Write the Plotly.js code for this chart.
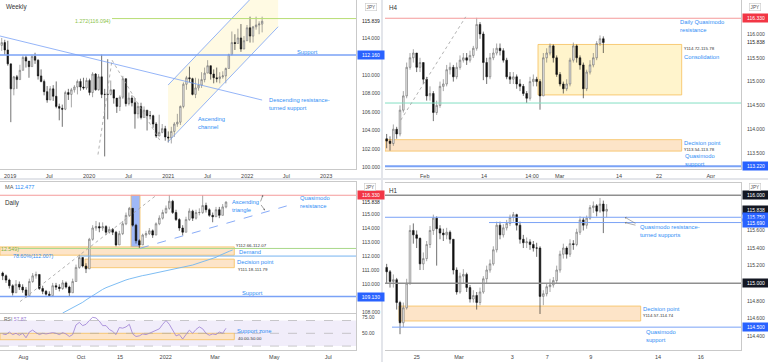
<!DOCTYPE html>
<html><head><meta charset="utf-8">
<script src="https://cdn.plot.ly/plotly-3.0.1.min.js"></script>
<style>html,body{margin:0;padding:0;background:#fff}#chart{width:768px;height:362px}</style>
</head><body><div id="chart"></div>
<script>
// ---------------- DATA ----------------
// Weekly panel (two-week bars), bar end dates start 2018-11-23
const wkStart = '2018-11-23';
const wkOpen0 = 113.2;
const wkClose = [113.5,112.7,111.2,108.5,109.8,109.5,110.5,111.9,111.5,110.9,112.0,111.6,109.9,109.3,108.2,107.3,108.5,107.7,106.6,106.4,106.3,108.1,107.9,108.4,108.7,109.3,108.7,108.6,109.4,108.1,110.1,108.4,109.8,107.9,107.9,107.9,108.4,107.5,106.6,107.6,109.6,106.9,107.5,107.0,105.8,106.6,105.4,106.2,105.6,105.6,104.7,103.4,103.8,104.2,103.3,103.2,103.9,104.7,104.9,106.6,109.0,109.7,109.6,107.9,108.6,108.9,109.5,110.2,111.0,110.1,109.7,109.6,109.8,109.9,110.7,112.2,113.5,113.4,114.0,112.8,113.7,115.1,114.2,115.2,115.4,115.5,115.8];
const wkHigh = [114.0,113.8,113.7,110.9,109.9,110.0,111.1,112.1,112.1,111.5,112.2,112.4,111.7,110.6,109.5,108.8,108.8,108.9,109.3,106.9,106.8,108.3,108.5,108.6,108.9,109.5,109.6,109.7,109.7,109.6,110.3,110.2,110.1,112.2,108.5,111.7,109.4,108.1,107.5,107.8,109.9,108.0,108.1,107.8,107.5,107.0,107.0,106.6,105.8,106.1,105.7,104.9,105.7,104.7,104.5,103.9,104.4,104.9,105.8,106.7,109.2,109.9,110.9,109.7,109.7,109.6,110.3,110.8,111.6,111.0,110.6,110.8,110.3,110.4,110.8,112.3,114.7,114.4,115.0,115.5,114.2,115.4,116.3,115.3,116.3,115.8,116.3];
const wkLow = [112.6,112.2,111.0,104.9,107.8,108.5,109.7,110.6,110.8,109.7,110.9,111.2,109.5,109.2,107.8,107.0,107.3,107.2,106.4,105.1,104.4,106.2,107.3,106.5,108.1,107.9,108.3,108.4,108.4,107.8,107.6,108.3,108.3,107.5,101.2,105.2,107.8,106.9,105.9,106.1,107.4,106.6,106.7,106.6,104.2,105.3,105.2,105.8,104.0,105.2,104.3,103.2,103.7,103.7,102.9,102.7,102.6,103.3,104.4,104.6,106.4,108.4,109.2,107.8,107.5,108.3,108.6,109.2,110.2,109.5,109.1,109.2,109.1,109.6,109.1,110.8,112.1,112.7,113.4,112.5,112.9,113.9,113.5,113.5,114.9,114.4,114.6];
const wkTickDates = ['2019-01-01','2019-07-01','2020-01-01','2020-07-01','2021-01-01','2021-07-01','2022-01-01','2022-07-01','2023-01-01'];
const wkTickText = ['2019','Jul','2020','Jul','2021','Jul','2022','Jul','2023'];
const wkPriceTicks = [100,102,104,106,108,110,114,118];

// H4 panel
const h4Open0 = 113.8;
const h4Close = [113.75,113.7,114.0,113.9,114.4,114.7,115.3,115.5,115.6,115.3,115.4,115.05,114.7,114.75,114.35,114.5,114.9,114.95,115.25,115.3,115.1,115.3,115.45,115.5,115.45,115.55,115.7,116.2,116.0,115.4,115.1,115.5,115.6,115.7,115.65,115.45,115.1,115.05,115.1,114.95,114.9,114.75,114.65,115.0,115.05,115.0,114.7,115.5,115.6,115.75,115.5,115.15,114.95,114.85,114.95,115.45,115.75,115.5,115.35,114.85,115.2,115.35,115.5,115.8,115.9,115.82];
const h4High = [113.9,113.85,114.1,114.05,114.5,114.8,115.4,115.6,115.68,115.6,115.5,115.4,115.1,114.9,114.8,114.6,115.0,115.05,115.35,115.4,115.35,115.4,115.55,115.6,115.6,115.65,115.75,116.34,116.25,116.05,115.5,115.6,115.7,115.8,115.8,115.7,115.5,115.2,115.2,115.15,115.05,114.95,114.8,115.1,115.15,115.1,115.05,115.6,115.7,115.8,115.78,115.55,115.2,115.0,115.05,115.5,115.82,115.78,115.55,115.4,115.25,115.45,115.6,115.85,115.97,115.95];
const h4Low = [113.6,113.55,113.65,113.8,113.85,114.35,114.65,115.25,115.4,115.2,115.2,114.95,114.6,114.6,114.17,114.3,114.45,114.8,114.9,115.15,115.0,115.05,115.25,115.4,115.35,115.4,115.5,115.65,115.9,115.03,114.95,115.05,115.45,115.55,115.55,115.4,115.05,114.95,114.95,114.85,114.8,114.7,114.55,114.6,114.9,114.9,114.41,114.7,115.4,115.55,115.4,115.1,114.9,114.75,114.8,114.9,115.4,115.4,115.25,114.65,114.8,115.15,115.3,115.45,115.75,115.6];
const h4TickText = ['Feb','14','14:00','Mar','14','22','Apr'];
const h4PriceTicks = [113.5,114,114.5,115,115.5,116];

// Daily panel
const dOpen0 = 110.8;
const dClose = [110.6,110.3,109.9,109.4,110.0,109.8,109.6,109.2,110.2,110.6,110.7,109.7,109.5,109.3,109.2,109.9,109.8,109.7,110.1,109.8,109.4,110.2,111.2,111.9,111.3,111.1,113.2,114.0,114.1,114.0,114.1,113.7,113.9,113.7,112.8,113.6,114.3,114.9,115.4,114.2,113.1,112.8,113.5,113.6,113.8,113.5,114.3,114.7,115.1,115.4,115.9,115.1,114.6,114.0,113.7,114.6,115.2,114.7,115.1,115.1,115.6,115.3,114.9,114.8,115.3,114.9,115.5,115.84];
const dHigh = [110.9,110.7,110.4,110.0,110.3,110.2,110.0,109.8,110.4,110.8,110.9,110.7,109.9,109.6,109.5,110.1,110.1,110.0,110.3,110.2,109.9,110.4,111.4,112.1,111.9,111.5,113.3,114.2,114.5,114.4,114.4,114.2,114.1,114.0,113.8,113.8,114.5,115.1,115.5,115.3,114.3,113.2,113.6,113.8,114.0,113.9,114.4,114.9,115.3,115.6,116.35,116.0,115.3,114.7,114.2,114.8,115.4,115.3,115.3,115.4,116.34,115.8,115.4,115.1,115.5,115.5,115.7,115.9];
const dLow = [110.3,110.1,109.7,109.2,109.4,109.6,109.4,109.05,109.2,110.1,110.4,109.6,109.3,109.2,109.1,109.2,109.6,109.5,109.6,109.7,109.1,109.4,110.2,111.1,111.2,110.8,111.1,113.1,113.8,113.7,113.8,113.5,113.6,113.5,112.7,112.8,113.5,114.2,114.8,114.1,112.9,112.55,112.8,113.3,113.5,113.3,113.5,114.2,114.6,115.0,115.3,115.0,114.5,113.8,113.47,113.7,114.5,114.5,114.6,114.9,115.0,115.1,114.8,114.41,114.8,114.7,114.9,115.4];
const maStart = 18;
const maValues = [107.96,108.08,108.20,108.34,108.46,108.60,108.72,108.89,109.05,109.22,109.38,109.53,109.64,109.76,109.86,109.95,110.05,110.14,110.21,110.31,110.38,110.45,110.52,110.57,110.62,110.66,110.71,110.76,110.81,110.85,110.90,110.95,111.00,111.04,111.09,111.14,111.18,111.26,111.30,111.37,111.45,111.52,111.59,111.68,111.75,111.85,111.92,112.04,112.16,112.25,112.35,112.44];
const rsiValues = [49,48,52,48,50,47,50,43,52,55,51,48,50,49,50,51,50,48,51,49,45,48,63,67,62,64,70,75,74,69,62,62,56,53,48,59,58,60,64,49,45,46,49,48,50,52,54,57,64,70,64,54,46,48,41,48,55,50,56,60,57,50,47,49,48,52,50,57.87];
const dTickText = ['Aug','Oct','15','2022','Mar','May','Jul'];
const dPriceTicks = [108,110,111,112,113,114,115];
const rsiTicks = [50,75];

// H1 panel
const h1Open0 = 115.18;
const h1Close = [115.13,115.02,115.04,114.78,114.55,114.72,115.0,115.6,115.55,115.51,115.22,115.28,115.44,115.6,115.74,115.62,115.57,115.55,115.58,115.5,115.15,114.9,115.08,115.1,114.95,114.82,114.86,114.78,114.9,115.05,115.15,115.22,115.38,115.66,115.55,115.63,115.68,115.75,115.78,115.66,115.5,115.46,115.47,115.44,115.4,115.4,114.85,114.88,114.96,114.98,115.03,115.15,115.33,115.4,115.33,115.45,115.44,115.58,115.72,115.66,115.74,115.86,115.88,115.82,115.9,115.82,115.84];
const h1High = [115.22,115.15,115.1,115.06,114.8,114.78,115.05,115.66,115.68,115.6,115.52,115.35,115.48,115.65,115.78,115.76,115.66,115.62,115.63,115.6,115.5,115.18,115.12,115.16,115.12,114.98,114.92,114.9,114.95,115.08,115.2,115.27,115.42,115.7,115.7,115.67,115.72,115.78,115.81,115.79,115.7,115.55,115.52,115.5,115.48,115.46,115.42,114.92,115.0,115.05,115.07,115.2,115.37,115.45,115.42,115.5,115.49,115.62,115.76,115.75,115.77,115.89,115.93,115.9,115.97,115.94,115.9];
const h1Low = [115.0,114.95,114.95,114.7,114.42,114.5,114.7,114.98,115.45,115.4,115.15,115.15,115.25,115.4,115.55,115.2,115.5,115.48,115.5,115.45,115.1,114.87,114.88,115.0,114.9,114.78,114.78,114.7,114.75,114.88,115.0,115.12,115.2,115.35,115.5,115.52,115.6,115.65,115.7,115.6,115.45,115.4,115.4,115.38,115.36,115.3,114.65,114.75,114.85,114.9,114.95,115.0,115.12,115.28,115.28,115.3,115.38,115.42,115.55,115.6,115.62,115.72,115.8,115.76,115.8,115.57,115.75];
const h1TickText = ['25','Mar','3','7','9','14','16'];
const h1PriceTicks = [114.4,114.6,114.8,115.2,115.4,115.6];

// key levels
const wkFib = 116.094, wkSupport = 112.160, wkLast = 115.839;
const h4Res = 116.330, h4Mid = 114.55, h4Sup = 113.220, h4Last = 115.838;
const h4Consol = [114.72, 115.78], h4Decision = [113.54, 113.78];
const dRes = 116.330, dSup = 109.130, dLast = 115.838, dFib = 112.549, dFib786 = 112.007;
const dDemand = [112.07, 112.66], dDecision = [111.18, 111.79], dBlueZone = [112.44, 116.33];
const rsiZone = [40, 50];
const h1Top = 116.0, h1Mid = 115.0, h1Q1 = 115.75, h1Q2 = 115.69, h1Sup = 114.5, h1Last = 115.838;
const h1Decision = [114.57, 114.74];

// ---------------- HELPERS ----------------
const W = 768, H = 362;
const FONT = 'Liberation Sans, Arial, sans-serif';
const BLUE_TXT = '#2f8df5', BLUE_LINE = '#7aa2f6', TAG_BLUE = '#2962ff';
const RED_LINE = '#f49a9a', TAG_RED = '#f23645';
const ZONE_FILL = '#fde4c8', ZONE_LINE = '#f6bf5a';
const PXx = x => x / W, PYy = y => 1 - y / H;
const barL = px => (3 * px - 8) / 10;
const barR = px => (3 * (px - 384) - 8) / 10;
const dateAt = px => new Date(Date.UTC(2019, 0, 1) + (px - 10) / 79 * 365.25 * 864e5).toISOString().slice(0, 10);
const idx = n => Array.from({length: n}, (_, i) => i);

function candle(open0, close, high, low, x, xa, ya) {
  const open = [open0].concat(close.slice(0, -1));
  return {
    type: 'candlestick', x, open, close,
    high: high.map((v, i) => Math.max(v, open[i], close[i])),
    low: low.map((v, i) => Math.min(v, open[i], close[i])),
    xaxis: xa, yaxis: ya, whiskerwidth: 0, hoverinfo: 'none', showlegend: false,
    increasing: {line: {color: '#6b6b6b', width: 0.6}, fillcolor: '#ececec'},
    decreasing: {line: {color: '#111', width: 0.6}, fillcolor: '#111'}
  };
}

const wkDates = wkClose.map((_, i) => new Date(Date.parse(wkStart) + i * 14 * 864e5).toISOString().slice(0, 10));

const traces = [
  candle(wkOpen0, wkClose, wkHigh, wkLow, wkDates, 'x', 'y'),
  candle(h4Open0, h4Close, h4High, h4Low, idx(h4Close.length), 'x2', 'y2'),
  candle(dOpen0, dClose, dHigh, dLow, idx(dClose.length), 'x3', 'y3'),
  {type: 'scatter', mode: 'lines', x: idx(maValues.length).map(i => i + maStart), y: maValues,
   xaxis: 'x3', yaxis: 'y3', line: {color: '#6fb6f2', width: 0.9}, hoverinfo: 'none', showlegend: false},
  {type: 'scatter', mode: 'lines', x: idx(rsiValues.length), y: rsiValues,
   xaxis: 'x4', yaxis: 'y4', line: {color: '#9c7fd6', width: 0.8}, hoverinfo: 'none', showlegend: false},
  candle(h1Open0, h1Close, h1High, h1Low, idx(h1Close.length), 'x5', 'y5')
];

// ---------------- AXES ----------------
const xBase = {showgrid: false, zeroline: false, rangeslider: {visible: false}, showline: true, linecolor: '#c9c9c9',
  linewidth: 1, ticks: '', tickfont: {family: FONT, size: 5.5, color: '#444'}, fixedrange: true, ticklabelstandoff: 1};
const yBase = {side: 'right', showgrid: false, zeroline: false, showline: true, linecolor: '#c9c9c9', linewidth: 1,
  ticks: '', tickfont: {family: FONT, size: 5, color: '#444'}, tickformat: '.3f', fixedrange: true, ticklabelstandoff: 4};
const LX = [0, 356 / W], RX = [385 / W, 741 / W];

const layout = {
  width: W, height: H, margin: {l: 0, r: 0, t: 0, b: 0}, paper_bgcolor: '#fff', plot_bgcolor: '#fff',
  showlegend: false, font: {family: FONT},
  xaxis: Object.assign({}, xBase, {domain: LX, anchor: 'y', type: 'date',
    range: [dateAt(0), dateAt(356)], tickvals: wkTickDates, ticktext: wkTickText}),
  yaxis: Object.assign({}, yBase, {domain: [1 - 169 / H, 1], anchor: 'x', range: [99.84, 118.1], tickvals: wkPriceTicks}),
  xaxis2: Object.assign({}, xBase, {domain: RX, anchor: 'y2', range: [barR(385), barR(741)],
    tickvals: [424.7, 484, 532, 559.7, 619, 659, 710.7].map(barR), ticktext: h4TickText}),
  yaxis2: Object.assign({}, yBase, {domain: [1 - 169 / H, 1], anchor: 'x2', range: [113.164, 116.714], tickvals: h4PriceTicks}),
  xaxis3: Object.assign({}, xBase, {domain: LX, anchor: 'y3', range: [barL(0), barL(356)], showticklabels: false, mirror: true}),
  yaxis3: Object.assign({}, yBase, {domain: [1 - 313.3 / H, 1 - 182 / H], anchor: 'x3', range: [107.94, 117.27], tickvals: dPriceTicks}),
  xaxis4: Object.assign({}, xBase, {domain: LX, anchor: 'y4', matches: 'x3',
    tickvals: [23.3, 81, 120, 165.7, 215, 274.3, 328.3].map(barL), ticktext: dTickText}),
  yaxis4: Object.assign({}, yBase, {domain: [1 - 350 / H, 1 - 313.3 / H], anchor: 'x4', range: [23.9, 81.25], tickvals: rsiTicks, tickformat: '.2f'}),
  xaxis5: Object.assign({}, xBase, {domain: RX, anchor: 'y5', range: [barR(385), barR(741)], mirror: true,
    tickvals: [416.7, 459, 512.3, 547.3, 590.7, 658, 700.7].map(barR), ticktext: h1TickText}),
  yaxis5: Object.assign({}, yBase, {domain: [1 - 350 / H, 1 - 183 / H], anchor: 'x5', range: [114.24, 116.14], tickvals: h1PriceTicks})
};

// ---------------- SHAPES ----------------
const S = [];
function seg(xref, yref, x0, y0, x1, y1, color, width, dash, layer) {
  S.push({type: 'line', xref, yref, x0, y0, x1, y1, line: {color, width, dash: dash || 'solid'}, layer: layer || 'above'});
}
function full(ax, y, color, width, dash) { seg(ax + ' domain', 'y' + ax.slice(1), 0, y, 1, y, color, width, dash); }
function box(xref, yref, x0, x1, y0, y1, fill, line, layer) {
  S.push({type: 'rect', xref, yref, x0, x1, y0, y1, fillcolor: fill, line: {color: line, width: line ? 0.8 : 0}, layer: layer || 'below'});
}
// panel separators
S.push({type: 'line', xref: 'paper', yref: 'paper', x0: PXx(382), x1: PXx(382), y0: 0, y1: 1, line: {color: '#e3e5ea', width: 2}});
S.push({type: 'line', xref: 'paper', yref: 'paper', x0: 0, x1: 1, y0: PYy(179), y1: PYy(179), line: {color: '#e3e5ea', width: 2}});

// Weekly
const cA = dateAt(168), cB = dateAt(278);
S.push({type: 'path', xref: 'x', yref: 'y', path: `M${cA},102.78L${cB},115.21L${cB},121.34L${cA},108.91Z`,
  fillcolor: '#fffae3', line: {width: 0}, layer: 'below'});
seg('x', 'y', cA, 102.78, cB, 115.21, BLUE_LINE, 0.8);
seg('x', 'y', cA, 108.91, cB, 121.34, BLUE_LINE, 0.8);
seg('x', 'y', dateAt(0), 114.21, dateAt(262), 107.29, BLUE_LINE, 0.8);
full('x', wkSupport, BLUE_LINE, 1.4);
seg('x', 'y', dateAt(112), wkFib, dateAt(356), wkFib, '#b8dd75', 1);
seg('x', 'y', dateAt(98), 101.4, dateAt(112), 111.6, '#a0a0a0', 0.8, 'dot');
seg('x', 'y', dateAt(112), 111.6, dateAt(160), 102.9, '#a0a0a0', 0.8, 'dot');

// H4
full('x2', h4Res, RED_LINE, 1.1);
full('x2', h4Mid, '#84dfc4', 1);
full('x2', h4Sup, BLUE_LINE, 2);
box('x2', 'y2', barR(538), barR(681.7), h4Consol[0], h4Consol[1], '#fff4cc', ZONE_LINE);
box('x2', 'y2', barR(385), barR(681.7), h4Decision[0], h4Decision[1], ZONE_FILL, ZONE_LINE);
seg('x2', 'y2', barR(400.7), 114.19, barR(465.7), 116.36, '#a0a0a0', 0.8, 'dot');

// Daily
full('x3', dRes, RED_LINE, 1.1);
box('x3', 'y3', barL(131), barL(140), dBlueZone[0], dBlueZone[1], 'rgba(80,125,240,0.55)', ZONE_LINE);
box('x3', 'y3', barL(0), barL(234.3), dDemand[0], dDemand[1], ZONE_FILL, ZONE_LINE);
box('x3', 'y3', barL(85), barL(234.3), dDecision[0], dDecision[1], ZONE_FILL, ZONE_LINE);
seg('x3', 'y3', barL(18.3), dFib, barL(356), dFib, '#a8d88a', 1);
seg('x3', 'y3', barL(80), dFib786, barL(356), dFib786, '#76b4f0', 1);
full('x3', dSup, BLUE_LINE, 1.4);
seg('x3', 'y3', barL(20), 108.77, barL(156.7), 116.35, '#a0a0a0', 0.8, 'dot');
seg('x3', 'y3', barL(140), 112.56, barL(286.7), 115.57, BLUE_LINE, 0.9, 'dash');
box('x4 domain', 'y4', 0, 1, 30, 70, '#f1edfa', null);
[70, 50, 30].forEach(v => seg('x4 domain', 'y4', 0, v, 1, v, '#a6a6a6', 0.6, 'dash'));
box('x4', 'y4', barL(0), barL(234.3), rsiZone[0], rsiZone[1], ZONE_FILL, ZONE_LINE);

// H1
full('x5', h1Top, '#8f8f8f', 1.4);
full('x5', h1Mid, '#8f8f8f', 1.4);
full('x5', h1Q1, BLUE_LINE, 1);
seg('x5', 'y5', barR(489), h1Q2, barR(741), h1Q2, BLUE_LINE, 1);
seg('x5', 'y5', barR(392), h1Sup, barR(741), h1Sup, BLUE_LINE, 1);
box('x5', 'y5', barR(399), barR(640.7), h1Decision[0], h1Decision[1], ZONE_FILL, ZONE_LINE);
layout.shapes = S;

// ---------------- ANNOTATIONS ----------------
const A = [];
function note(px, py, text, size, color, anchor) {
  A.push({xref: 'paper', yref: 'paper', x: PXx(px), y: PYy(py), text, showarrow: false,
    xanchor: anchor || 'left', yanchor: 'middle', align: 'left',
    font: {family: FONT, size: size || 5.8, color: color || BLUE_TXT}});
}
function tag(xpx, yref, val, bg, fg, digits) {
  A.push({xref: 'paper', yref, x: PXx(xpx), y: val, xanchor: 'left', yanchor: 'middle', showarrow: false,
    text: val.toFixed(digits || 3), bgcolor: bg || 'rgba(0,0,0,0)', borderpad: 1, width: 24,
    font: {family: FONT, size: 5, color: fg}});
}
function jpy(px, py) {
  A.push({xref: 'paper', yref: 'paper', x: PXx(px), y: PYy(py), text: 'JPY', showarrow: false, xanchor: 'center', yanchor: 'middle',
    bgcolor: '#fff', bordercolor: '#c8c8c8', borderwidth: 0.6, borderpad: 1, font: {family: FONT, size: 4.6, color: '#555'}});
}
const DARK = '#333';
// Weekly
note(4, 7, 'Weekly', 6.3, DARK);
note(93, 20.5, '1.272(116.094)', 5.3, '#8bc34a', 'center');
note(307, 52, 'Support', 5.8, BLUE_TXT, 'center');
note(267, 103.5, 'Descending resistance-<br>turned support');
note(196, 123, 'Ascending<br>channel');
tag(357, 'y', wkSupport, TAG_BLUE, '#fff');
tag(357, 'y', wkLast, null, '#222');
jpy(371, 7);
// H4
note(387, 7, 'H4', 6.3, DARK);
note(678, 26, 'Daily Quasimodo<br>resistance');
note(682, 48, '¥114.72-115.78', 4.4, DARK);
note(682, 56.5, 'Consolidation');
note(682, 143, 'Decision point');
note(682, 150, '¥113.54-113.78', 4.4, DARK);
note(683, 160, 'Quasimodo<br>support');
tag(742, 'y2', h4Res, TAG_RED, '#fff');
tag(742, 'y2', h4Last, null, '#222');
tag(742, 'y2', h4Sup, TAG_BLUE, '#fff');
jpy(755, 7);
// Daily
note(3, 187, 'MA <span style="color:#2f8df5">112.477</span>', 5.6, '#555');
note(3, 202.5, 'Daily', 6.3, DARK);
note(230, 206.5, 'Ascending<br>triangle');
note(298, 201.5, 'Quasimodo<br>resistance');
note(-1, 249, '12.549)', 5.3, '#7cb342');
note(11, 256, '78.60%(112.007)', 5.3, BLUE_TXT);
note(234, 245, '¥112.66-112.07', 4.4, DARK);
note(237, 252, 'Demand');
note(235, 262, 'Decision point');
note(236, 269, '¥111.18-111.79', 4.4, DARK);
note(252, 293, 'Support', 5.8, BLUE_TXT, 'center');
note(2, 319, 'RSI <span style="color:#9c7fd6">57.87</span>', 5, '#666');
note(235, 331, 'Support zone');
note(236, 338, '40.00-50.00', 4.4, DARK);
tag(357, 'y3', dRes, TAG_RED, '#fff');
tag(357, 'y3', dLast, null, '#222');
tag(357, 'y3', dSup, TAG_BLUE, '#fff');
jpy(370, 187);
A.push({xref: 'x3', yref: 'y3', x: barL(263), y: 116.35, ax: -3, ay: 8, showarrow: true, arrowhead: 2, arrowsize: 0.6, arrowwidth: 0.6, arrowcolor: '#666', text: ''});
A.push({xref: 'x3', yref: 'y3', x: barL(265), y: 115.25, ax: -5, ay: -7, showarrow: true, arrowhead: 2, arrowsize: 0.6, arrowwidth: 0.6, arrowcolor: '#666', text: ''});
// H1
note(387, 190, 'H1', 6.3, DARK);
note(638, 231.5, 'Quasimodo resistance-<br>turned supports');
note(641, 309, 'Decision point');
note(641, 315.5, '¥114.57-114.74', 4.4, DARK);
note(644, 335.5, 'Quasimodo<br>support');
tag(742, 'y5', h1Top, '#131722', '#fff');
tag(742, 'y5', h1Last, '#131722', '#fff');
tag(742, 'y5', h1Q1, TAG_BLUE, '#fff');
tag(742, 'y5', h1Q2, TAG_BLUE, '#fff');
tag(742, 'y5', h1Mid, '#131722', '#fff');
tag(742, 'y5', h1Sup, TAG_BLUE, '#fff');
jpy(755, 187);
A.push({xref: 'x5', yref: 'y5', x: barR(625), y: h1Q1, ax: 12, ay: 7, showarrow: true, arrowhead: 1, arrowsize: 0.7, arrowwidth: 0.6, arrowcolor: '#777', text: ''});
A.push({xref: 'x5', yref: 'y5', x: barR(625), y: h1Q2, ax: 12, ay: 3, showarrow: true, arrowhead: 1, arrowsize: 0.7, arrowwidth: 0.6, arrowcolor: '#777', text: ''});
layout.annotations = A;

Plotly.newPlot('chart', traces, layout, {staticPlot: true, displayModeBar: false});
</script></body></html>
